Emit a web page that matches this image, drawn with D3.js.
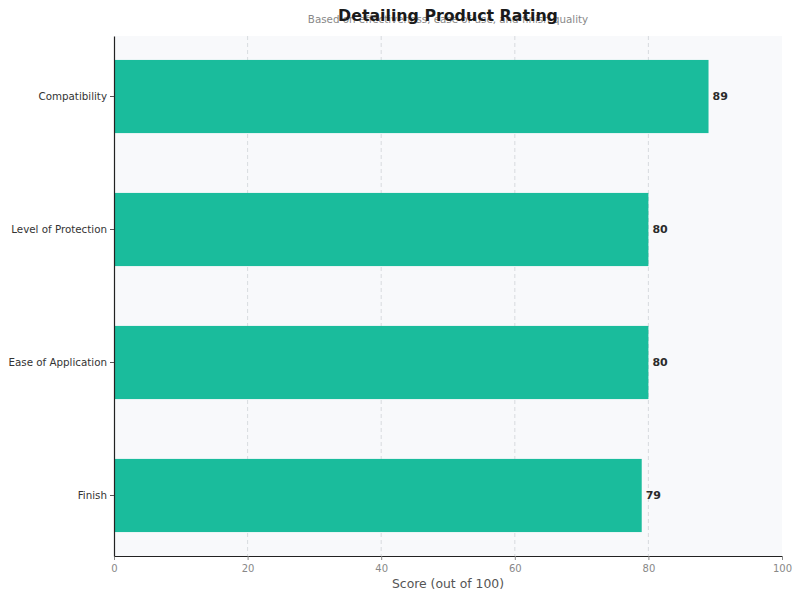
<!DOCTYPE html>
<html>
<head>
<meta charset="utf-8">
<script src="https://cdn.jsdelivr.net/npm/d3@7"></script>
<style>
  body { margin: 0; background: #fff; }
  svg { display: block; font-family: "DejaVu Sans", sans-serif; }
</style>
</head>
<body>
<div id="chart"></div>
<script>
const categories = ['Compatibility', 'Level of Protection', 'Ease of Application', 'Finish'];
const scores = [89, 80, 80, 79];
const xTicks = [0, 20, 40, 60, 80, 100];
const gridTicks = [20, 40, 60, 80];

const BAR = '#1abc9c';
const width = 800, height = 600;
const margin = { top: 36, right: 18, bottom: 44, left: 114 };
const plotW = width - margin.left - margin.right;
const plotH = height - margin.top - margin.bottom;

const svg = d3.select('#chart').append('svg')
  .attr('width', width).attr('height', height);

const g = svg.append('g').attr('transform', `translate(${margin.left},${margin.top})`);

const x = d3.scaleLinear().domain([0, 100]).range([0, plotW]);
const y = d3.scaleBand().domain(categories).range([0, plotH])
  .paddingInner(0.45).paddingOuter(0.18);

// plot background
g.append('rect').attr('width', plotW).attr('height', plotH).attr('fill', '#f8f9fb');

// vertical dashed grid
g.append('g').selectAll('line')
  .data(gridTicks)
  .join('line')
  .attr('x1', d => x(d)).attr('x2', d => x(d))
  .attr('y1', 0).attr('y2', plotH)
  .attr('stroke', '#cfd3d8').attr('stroke-width', 0.8)
  .attr('stroke-dasharray', '4,3');

// bars
g.selectAll('rect.bar')
  .data(categories)
  .join('rect').attr('class', 'bar')
  .attr('x', 0)
  .attr('y', d => y(d))
  .attr('width', (d, i) => x(scores[i]))
  .attr('height', y.bandwidth())
  .attr('fill', BAR);

// value labels
g.selectAll('text.val')
  .data(categories)
  .join('text').attr('class', 'val')
  .attr('x', (d, i) => x(scores[i]) + 4)
  .attr('y', d => y(d) + y.bandwidth() / 2)
  .attr('dominant-baseline', 'central')
  .attr('font-size', 11).attr('font-weight', 'bold').attr('fill', '#2b2b2b')
  .text((d, i) => scores[i]);

// axes
const xAxis = g.append('g').attr('transform', `translate(0,${plotH})`)
  .call(d3.axisBottom(x).tickValues(xTicks).tickSize(4).tickSizeOuter(0));
xAxis.select('.domain').attr('stroke', '#222').attr('stroke-width', 1.2);
xAxis.selectAll('.tick line').attr('stroke', '#888');
xAxis.selectAll('.tick text').attr('fill', '#888').attr('font-size', 10)
  .attr('font-family', '"DejaVu Sans", sans-serif').attr('dy', '0.9em');

const yAxis = g.append('g')
  .call(d3.axisLeft(y).tickSize(4).tickSizeOuter(0));
yAxis.select('.domain').attr('stroke', '#222').attr('stroke-width', 1.2);
yAxis.selectAll('.tick line').attr('stroke', '#555');
yAxis.selectAll('.tick text').attr('fill', '#333').attr('font-size', 10.3)
  .attr('font-family', '"DejaVu Sans", sans-serif');

// axis label
svg.append('text')
  .attr('x', margin.left + plotW / 2).attr('y', 588)
  .attr('text-anchor', 'middle').attr('font-size', 12.4).attr('fill', '#555')
  .text('Score (out of 100)');

// subtitle then title on top (they overlap in the original)
svg.append('text')
  .attr('x', margin.left + plotW / 2).attr('y', 23)
  .attr('text-anchor', 'middle').attr('font-size', 10.3).attr('fill', '#888')
  .text('Based on effectiveness, ease of use, and finish quality');

svg.append('text')
  .attr('x', margin.left + plotW / 2).attr('y', 21)
  .attr('text-anchor', 'middle').attr('font-size', 15.8).attr('font-weight', 'bold').attr('fill', '#1a1a1a')
  .text('Detailing Product Rating');
</script>
</body>
</html>
